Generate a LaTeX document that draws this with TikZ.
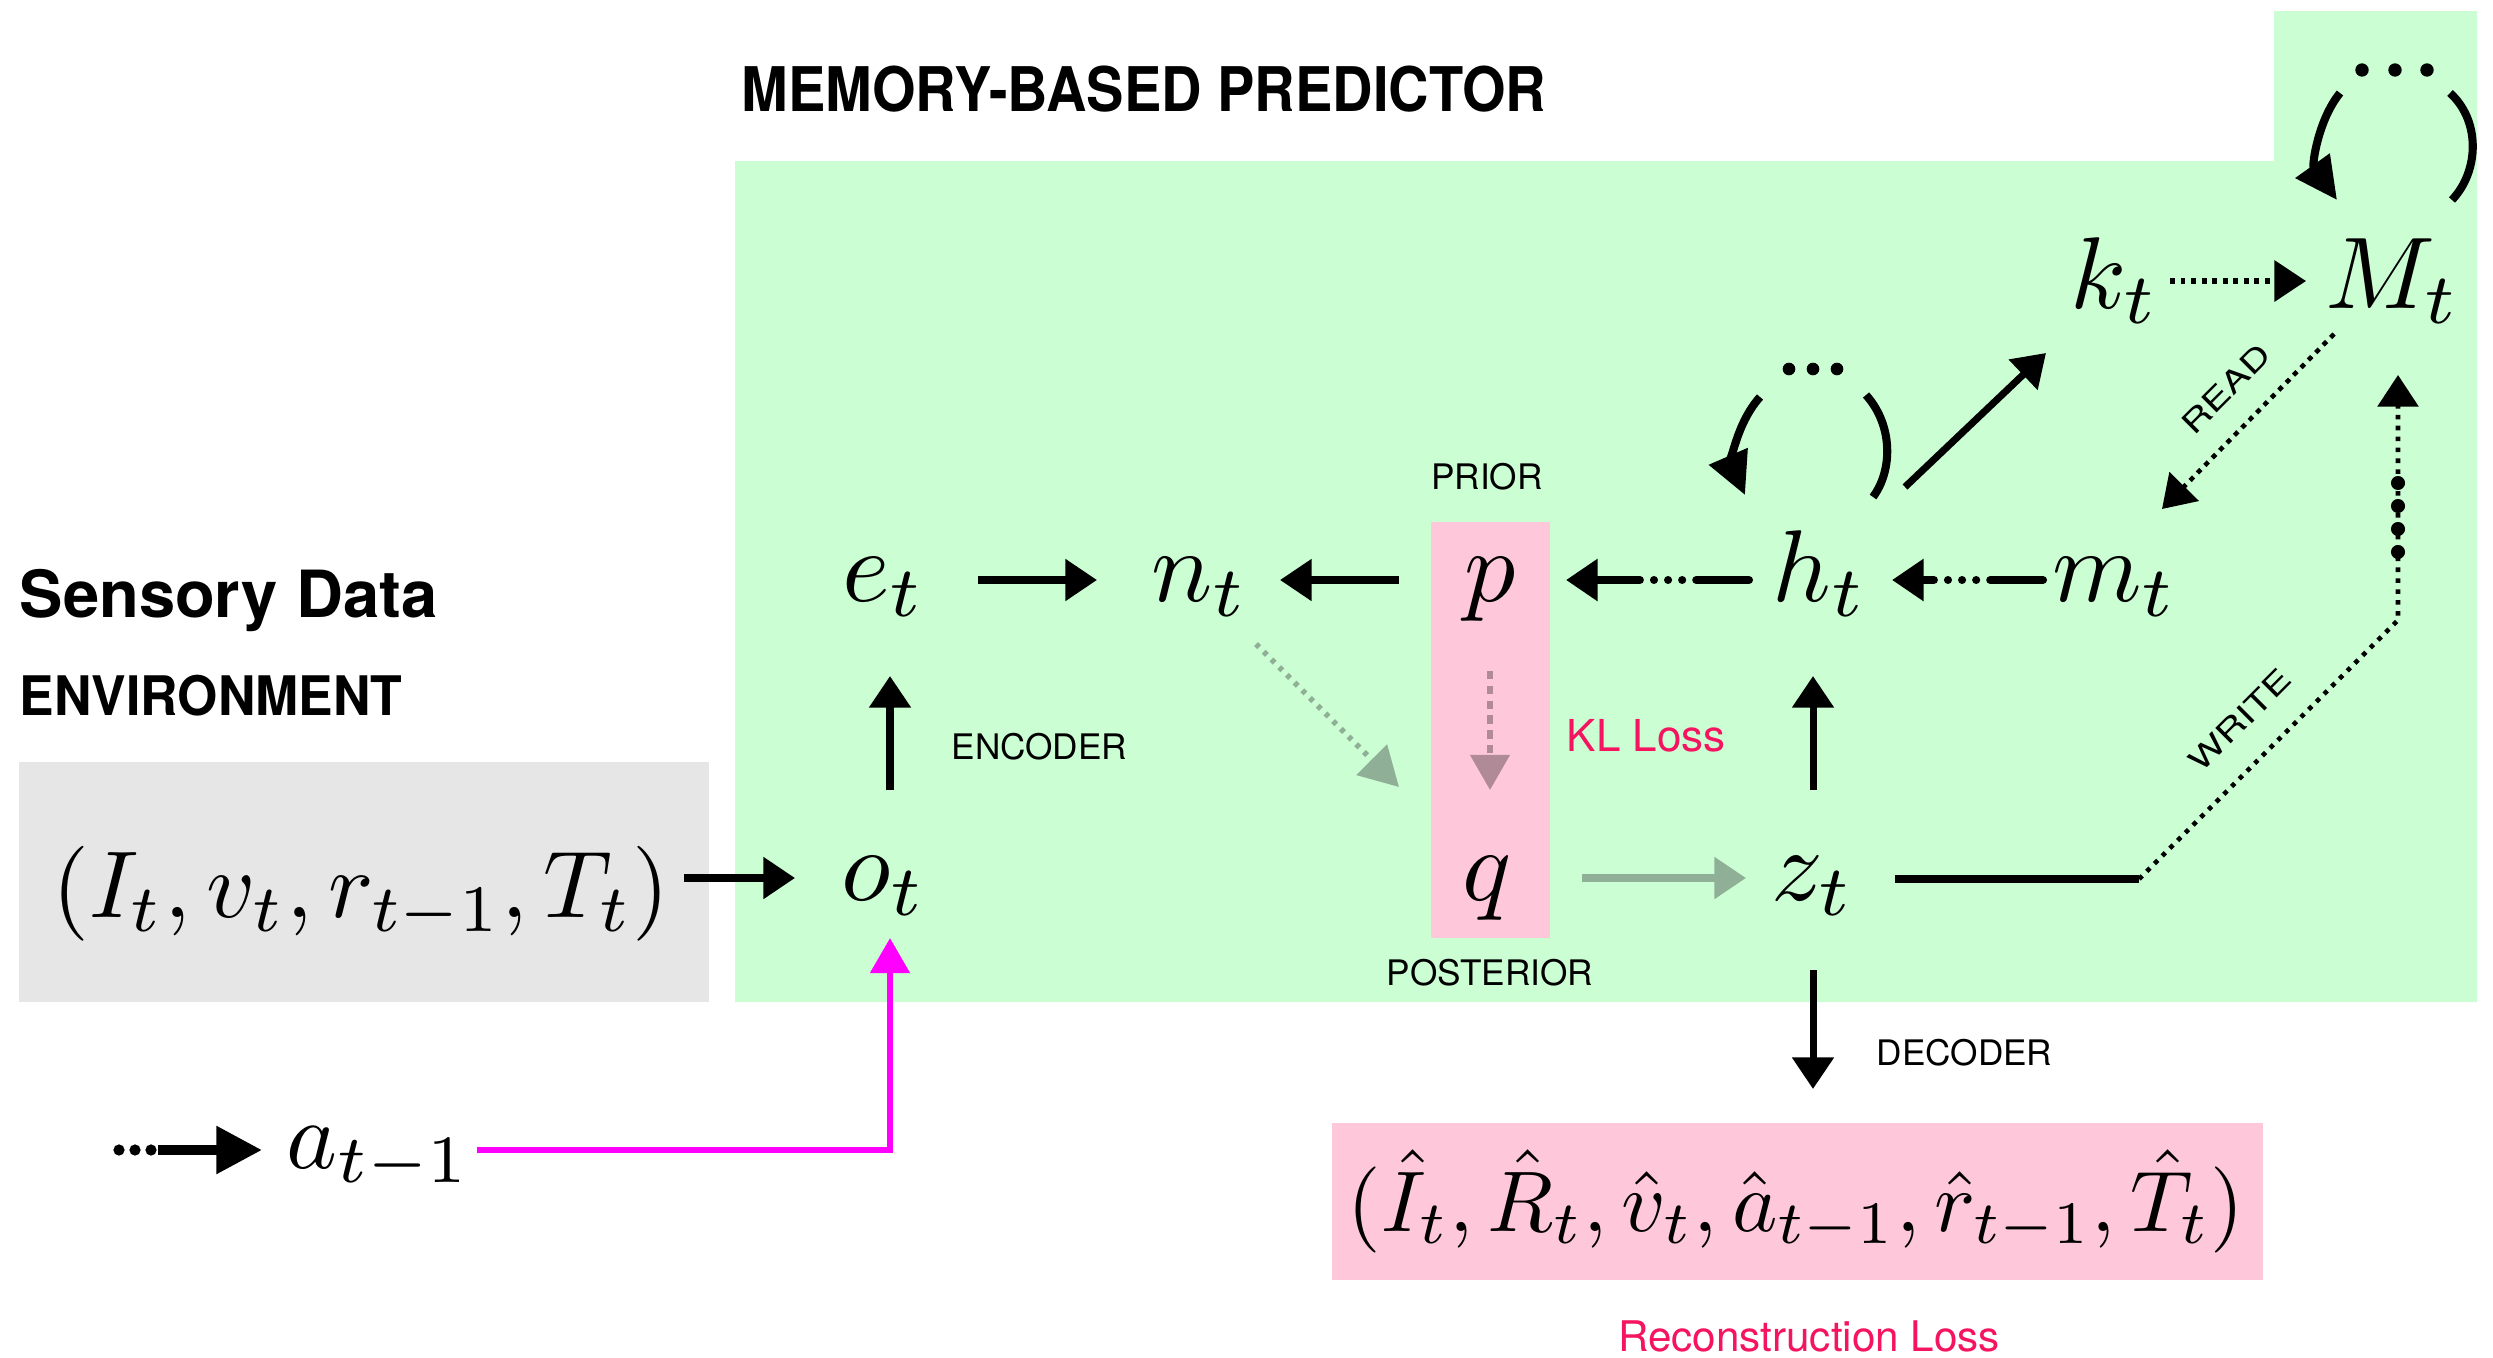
\documentclass[tikz,border=0pt]{standalone}
\usepackage{graphicx}
\usepackage{fontspec}
\setsansfont{TeX Gyre Heros}
\usetikzlibrary{arrows.meta,calc}

\definecolor{mintbg}{RGB}{204,254,212}
\definecolor{envgray}{RGB}{230,230,230}
\definecolor{lossbg}{RGB}{255,200,218}
\definecolor{actmag}{RGB}{255,0,255}
\definecolor{lossred}{RGB}{245,20,95}
\definecolor{postgreen}{RGB}{143,176,150}
\definecolor{klmauve}{RGB}{176,138,150}

% math symbols set at 10pt and enlarged
\newcommand{\vsym}[2][2.9]{\scalebox{#1}{$#2$}}

\begin{document}
\begin{tikzpicture}[x=0.01cm,y=-0.01cm,
  var/.style={inner sep=0pt, anchor=base},
  tag/.style={inner sep=0pt, font=\sffamily\fontsize{10}{12}\selectfont},
  rwtag/.style={inner sep=0pt, rotate=45, font=\sffamily\fontsize{8.5}{10}\selectfont},
  heading/.style={inner sep=0pt, anchor=base west, font=\sffamily\bfseries\fontsize{#1}{#1}\selectfont},
  losstxt/.style={inner sep=0pt, text=lossred, font=\sffamily\fontsize{#1}{#1}\selectfont},
  tip/.style={-{Triangle[length=9pt,width=11.5pt]}},
  flow/.style={line width=2pt, tip},
  statedash/.style={line width=2.3pt, line cap=round, tip,
    dash pattern=on 15pt off 4pt on 0.01pt off 4pt on 0.01pt off 4pt on 0.01pt off 4pt on 60pt},
  finedots/.style={line width=1.5pt, dash pattern=on 1.4pt off 1.6pt, tip},
  recur/.style={line width=2.3pt},
  bigdot/.style={fill=black},
]
\useasboundingbox (0,0) rectangle (2493,1357);
\fill[white] (0,0) rectangle (2493,1357);

% panels
\fill[mintbg] (735,161) -- (2274,161) -- (2274,11) -- (2477,11) -- (2477,1002) -- (735,1002) -- cycle;
\fill[envgray] (19,762) rectangle (709,1002);
\fill[lossbg] (1431,522) rectangle (1550,938);
\fill[lossbg] (1332,1123) rectangle (2263,1280);

% headings
\node[heading=17.5] (predhead) at (741,111) {\scalebox{0.91}[1]{MEMORY-BASED PREDICTOR}};
\node[heading=18.5] (sensehead) at (19,617) {Sensory Data};
\node[heading=15.5] (envhead) at (19,715) {\scalebox{0.95}[1]{ENVIRONMENT}};

% variables
\node[var] (e) at (884,601) {\vsym{e_t}};
\node[var] (n) at (1200,601) {\vsym{n_t}};
\node[var] (p) at (1490,601) {\vsym{p}};
\node[var] (h) at (1820,601) {\vsym{h_t}};
\node[var] (m) at (2115,601) {\vsym{m_t}};
\node[var] (k) at (2115,308) {\vsym{k_t}};
\node[var] (M) at (2393,308) {\vsym{M_t}};
\node[var] (o) at (884,900) {\vsym{o_t}};
\node[var] (q) at (1487,900) {\vsym{q}};
\node[var] (z) at (1813,900) {\vsym{z_t}};
\node[var, anchor=base west] (a) at (286,1168) {\vsym[2.75]{a_{t-1}}};
\node[var] (obs) at (361,917) {\vsym[2.7]{(I_t, v_t, r_{t-1}, T_t)}};
\node[var] (rec) at (1796,1231)
  {\vsym[2.45]{(\hat I_t, \hat R_t, \hat v_t, \hat a_{t-1}, \hat r_{t-1}, \hat T_t)}};

% small labels
\node[tag] (prior) at (1487,477) {PRIOR};
\node[tag] (post) at (1490,973) {POSTERIOR};
\node[tag, anchor=west] (enc) at (951,747) {ENCODER};
\node[tag, anchor=west] (dec) at (1876,1053) {DECODER};
\node[losstxt=12.5, anchor=west] (kl) at (1566,736) {KL Loss};
\node[losstxt=12] (recloss) at (1809,1336) {Reconstruction Loss};
\node[rwtag] (readtag) at (2226,389) {\scalebox{1.35}[1]{READ}};
\node[rwtag] (writetag) at (2240,720) {\scalebox{1.35}[1]{WRITE}};

% main flow
\draw[flow] ($(e.base)+(94,-21)$) -- ($(n.base)+(-103,-21)$);
\draw[flow] ($(p.base)+(-91,-21)$) -- ($(n.base)+(80,-21)$);
\draw[statedash] ($(h.base)+(-71,-21)$) -- ($(p.base)+(76,-21)$);
\draw[statedash] ($(m.base)+(-72,-21)$) -- ($(h.base)+(72,-21)$);
\draw[flow] ($(o.base)+(6,-110)$) -- ($(e.base)+(6,75)$);
\draw[flow] ($(obs.base)+(323,-39)$) -- ($(o.base)+(-89,-22)$);
\draw[flow] ($(z.base)+(0,-110)$) -- ($(h.base)+(-7,75)$);
\draw[flow] ($(z.base)+(0,70)$) -- ($(rec.base)+(17,-142)$);
\draw[flow] ($(h.base)+(85,-114)$) -- ($(k.base)+(-69,45)$);

% posterior / prior links
\draw[line width=2pt, postgreen, tip] ($(q.base)+(95,-22)$) -- ($(z.base)+(-67,-22)$);
\draw[line width=1.6pt, postgreen, dash pattern=on 1.3pt off 1.8pt, -{Triangle[length=11pt,width=12pt]}]
  ($(n.base)+(56,43)$) -- ($(q.base)+(-88,-113)$);
\draw[line width=1.6pt, klmauve, dash pattern=on 2.4pt off 1.8pt, -{Triangle[length=10pt,width=11pt]}]
  ($(p.base)+(0,70)$) -- ($(q.base)+(3,-110)$);

% memory access
\draw[finedots] ($(k.base)+(55,-27)$) -- ($(M.base)+(-87,-27)$);
\draw[finedots, line width=1.3pt] ($(M.base)+(-59,26)$) -- ($(m.base)+(47,-92)$);
\coordinate (wbend) at (2139,879);
\coordinate (wturn) at (2398,620);
\draw[line width=2pt] ($(z.base)+(82,-21)$) -- (wbend);
\draw[line width=1.3pt, dash pattern=on 1.3pt off 1.8pt, tip] (wbend) -- (wturn) -- ($(M.base)+(5,67)$);
\foreach \dy in {-137,-114,-91,-68}
  \fill[bigdot] ($(wturn)+(0,\dy)$) circle[radius=2pt];

% recurrence of h_t
\draw[recur, -{Triangle[length=12pt,width=11.5pt]}] ($(h.base)+(-60,-204)$)
  .. controls ($(h.base)+(-85,-176)$) and ($(h.base)+(-88,-136)$) .. ($(h.base)+(-75,-106)$);
\draw[recur] ($(h.base)+(46,-206)$)
  .. controls ($(h.base)+(73,-176)$) and ($(h.base)+(73,-131)$) .. ($(h.base)+(53,-104)$);
\foreach \dx in {-31,-7,17}
  \fill[bigdot] ($(h.base)+(\dx,-232)$) circle[radius=1.8pt];

% recurrence of M_t
\draw[recur, -{Triangle[length=12pt,width=11.5pt]}] ($(M.base)+(-53,-215)$)
  .. controls ($(M.base)+(-75,-188)$) and ($(M.base)+(-81,-143)$) .. ($(M.base)+(-56,-108)$);
\draw[recur] ($(M.base)+(57,-215)$)
  .. controls ($(M.base)+(87,-188)$) and ($(M.base)+(87,-138)$) .. ($(M.base)+(59,-108)$);
\foreach \dx in {-31,2,34}
  \fill[bigdot] ($(M.base)+(\dx,-238)$) circle[radius=1.9pt];

% previous action
\foreach \xx in {119,135,151}
  \fill[bigdot] (\xx,1150) circle[radius=1.6pt];
\coordinate (actin) at (158,1150);
\draw[line width=2.8pt, -{Triangle[length=13pt,width=13pt]}] (actin) -- ($(a.base west)+(-24,-18)$);
\draw[line width=1.8pt, actmag, -{Triangle[length=10pt,width=11pt]}]
  ($(a.base east)+(5,-18)$) -| ($(o.base)+(6,38)$);
\end{tikzpicture}
\end{document}
